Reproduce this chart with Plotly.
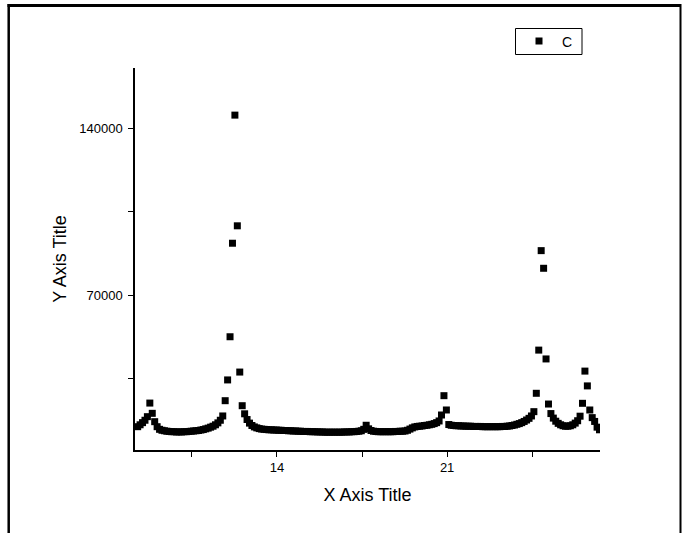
import plotly.graph_objects as go

x_values = [
    8.27, 8.37, 8.47, 8.57, 8.67, 8.77, 8.87, 8.97, 9.07, 9.17,
    9.27, 9.37, 9.47, 9.57, 9.67, 9.77, 9.87, 9.97, 10.07, 10.17,
    10.27, 10.37, 10.47, 10.57, 10.67, 10.77, 10.87, 10.97, 11.07, 11.17,
    11.27, 11.37, 11.47, 11.57, 11.67, 11.77, 11.87, 11.97, 12.07, 12.17,
    12.27, 12.37, 12.47, 12.57, 12.67, 12.77, 12.87, 12.97, 13.07, 13.17,
    13.27, 13.37, 13.47, 13.57, 13.67, 13.77, 13.87, 13.97, 14.07, 14.17,
    14.27, 14.37, 14.47, 14.57, 14.67, 14.77, 14.87, 14.97, 15.07, 15.17,
    15.27, 15.37, 15.47, 15.57, 15.67, 15.77, 15.87, 15.97, 16.07, 16.17,
    16.27, 16.37, 16.47, 16.57, 16.67, 16.77, 16.87, 16.97, 17.07, 17.17,
    17.27, 17.37, 17.47, 17.57, 17.67, 17.77, 17.87, 17.97, 18.07, 18.17,
    18.27, 18.37, 18.47, 18.57, 18.67, 18.77, 18.87, 18.97, 19.07, 19.17,
    19.27, 19.37, 19.47, 19.57, 19.67, 19.77, 19.87, 19.97, 20.07, 20.17,
    20.27, 20.37, 20.47, 20.57, 20.67, 20.77, 20.87, 20.97, 21.07, 21.17,
    21.27, 21.37, 21.47, 21.57, 21.67, 21.77, 21.87, 21.97, 22.07, 22.17,
    22.27, 22.37, 22.47, 22.57, 22.67, 22.77, 22.87, 22.97, 23.07, 23.17,
    23.27, 23.37, 23.47, 23.57, 23.67, 23.77, 23.87, 23.97, 24.07, 24.17,
    24.27, 24.37, 24.47, 24.57, 24.67, 24.77, 24.87, 24.97, 25.07, 25.17,
    25.27, 25.37, 25.47, 25.57, 25.67, 25.77, 25.87, 25.97, 26.07, 26.17,
    26.27, 26.37, 26.47, 26.57, 26.67, 26.77, 26.87, 26.97, 27.07, 27.17,
    27.27,
]

c_values = [
    14800, 15600, 16500, 17500, 19000, 24700, 20400, 16900, 14800, 13700,
    13300, 13100, 12900, 12800, 12700, 12700, 12600, 12600, 12600, 12700,
    12700, 12800, 12900, 13000, 13100, 13200, 13400, 13600, 13900, 14200,
    14600, 15000, 15600, 16400, 17500, 19300, 25700, 34400, 52500, 91700,
    145400, 99000, 37700, 23600, 20200, 17800, 16300, 15300, 14700, 14300,
    14000, 13800, 13700, 13600, 13500, 13500, 13400, 13400, 13300, 13300,
    13200, 13200, 13100, 13100, 13000, 13000, 12900, 12900, 12800, 12800,
    12800, 12700, 12700, 12700, 12600, 12600, 12600, 12500, 12500, 12500,
    12500, 12500, 12500, 12500, 12500, 12600, 12600, 12600, 12700, 12700,
    12800, 12900, 13100, 13700, 15400, 13900, 13200, 12900, 12800, 12700,
    12700, 12700, 12700, 12700, 12700, 12700, 12800, 12800, 12900, 12900,
    13000, 13300, 13800, 14300, 14700, 14900, 15000, 15100, 15300, 15400,
    15600, 15800, 16100, 16500, 17200, 19700, 27800, 21800, 15700, 15400,
    15300, 15200, 15200, 15100, 15100, 15000, 15000, 15000, 14900, 14900,
    14900, 14900, 14800, 14800, 14800, 14800, 14800, 14800, 14800, 14800,
    14900, 14900, 15000, 15100, 15300, 15500, 15800, 16100, 16500, 17000,
    17600, 18300, 19300, 21100, 28800, 46900, 88600, 81200, 43200, 24300,
    20300, 18400, 17100, 16200, 15600, 15200, 15000, 15000, 15200, 15600,
    16300, 17300, 19200, 24600, 38100, 31900, 21800, 18600, 17000, 14600,
    13500,
]

x_tick_vals = [10.5, 14, 17.5, 21, 24.5]
x_tick_text = ["", "14", "", "21", ""]
y_tick_vals = [35000, 70000, 105000, 140000]
y_tick_text = ["", "70000", "", "140000"]

FONT = "Liberation Sans, Arial, sans-serif"

fig = go.Figure()
fig.add_trace(go.Scatter(
    x=x_values, y=c_values, mode="markers", name="C",
    marker=dict(symbol="square", size=7, color="black", line=dict(width=0)),
))

# plot area: left 135, right 600, top 68, bottom 450 (px)
L, R, T, B = 135, 600, 68, 450
W, H = 682, 533
pw, ph = R - L, B - T

def px_x(p):
    return (p - L) / pw

def px_y(p):
    return (B - p) / ph

fig.update_layout(
    width=W, height=H,
    margin=dict(l=L, r=W - R, t=T, b=H - B, pad=0),
    paper_bgcolor="white", plot_bgcolor="white",
    font=dict(family=FONT, size=13, color="black"),
    showlegend=True,
    legend=dict(
        x=px_x(516), y=px_y(25.5), xanchor="left", yanchor="top",
        borderwidth=0, bgcolor="rgba(0,0,0,0)",
        font=dict(family=FONT, size=14, color="black"),
        itemwidth=36,
    ),
    xaxis=dict(
        range=[8.16, 27.29], showgrid=False, zeroline=False,
        showline=True, linecolor="black", linewidth=1.5, mirror=False,
        ticks="outside", ticklen=5, tickwidth=1.2, tickcolor="black",
        tickvals=x_tick_vals, ticktext=x_tick_text,
        tickfont=dict(family=FONT, size=13, color="black"),
        title=dict(text="X Axis Title", font=dict(family=FONT, size=18, color="black"), standoff=14),
    ),
    yaxis=dict(
        range=[5030, 165150], showgrid=False, zeroline=False,
        showline=True, linecolor="black", linewidth=1.5, mirror=False,
        ticks="outside", ticklen=5, tickwidth=1.2, tickcolor="black",
        tickvals=y_tick_vals, ticktext=y_tick_text, ticklabelstandoff=3,
        tickfont=dict(family=FONT, size=13, color="black"),
        title=dict(text="Y Axis Title", font=dict(family=FONT, size=18, color="black"), standoff=8),
    ),
    shapes=[
        dict(type="line", xref="paper", yref="paper",
             x0=px_x(8.7), x1=px_x(8.7), y0=px_y(4), y1=px_y(545),
             line=dict(color="black", width=2.5)),
        dict(type="line", xref="paper", yref="paper",
             x0=px_x(7.5), x1=px_x(681), y0=px_y(5.5), y1=px_y(5.5),
             line=dict(color="black", width=3)),
        dict(type="line", xref="paper", yref="paper",
             x0=px_x(680.5), x1=px_x(680.5), y0=px_y(4), y1=px_y(545),
             line=dict(color="black", width=2)),
        dict(type="rect", xref="paper", yref="paper",
             x0=px_x(515.5), x1=px_x(582), y0=px_y(28.5), y1=px_y(54.5),
             line=dict(color="black", width=1)),
    ],
)

fig.write_html("out.html")
